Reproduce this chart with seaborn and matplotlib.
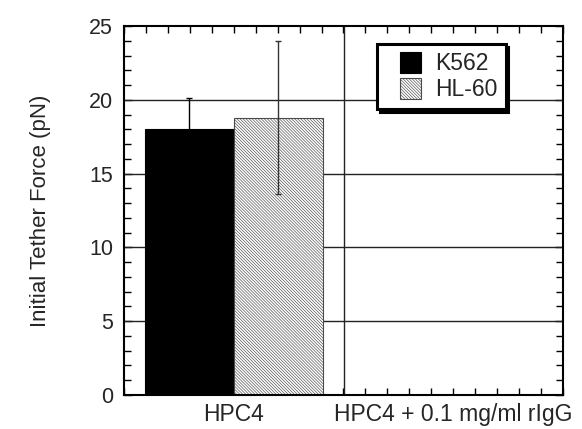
import numpy as np
import pandas as pd
import matplotlib
matplotlib.use("Agg")
import matplotlib.pyplot as plt
from matplotlib.ticker import MultipleLocator, FixedLocator
from matplotlib.patches import Rectangle
from matplotlib.legend_handler import HandlerPatch
import seaborn as sns

# ---- data ----
categories = ["HPC4", "HPC4 + 0.1 mg/ml rIgG"]
cells = ["K562", "HL-60"]
k562_mean = [18.0, np.nan]
k562_err = [2.1, np.nan]
hl60_mean = [18.8, np.nan]
hl60_err = [5.15, np.nan]

df = pd.DataFrame({
    "condition": categories * 2,
    "cell": [cells[0]] * 2 + [cells[1]] * 2,
    "force": k562_mean + hl60_mean,
})
errs = {cells[0]: k562_err, cells[1]: hl60_err}

sns.set_style("ticks")
plt.rcParams["font.family"] = ["Liberation Sans", "DejaVu Sans"]
plt.rcParams["hatch.linewidth"] = 0.45

fig = plt.figure(figsize=(5.82, 4.29), dpi=100)
ax = fig.add_axes([124 / 582, 1 - 395 / 429, (563 - 124) / 582, (395 - 26) / 429])

sns.barplot(data=df.dropna(), x="condition", y="force", hue="cell",
            order=categories, hue_order=cells, palette=["black", "white"],
            saturation=1, width=0.81, errorbar=None, ax=ax, zorder=2,
            legend=False)
bar_containers = list(ax.containers)

# styling bars
for p in bar_containers[0]:
    p.set_edgecolor("black")
    p.set_linewidth(0.8)
for p in bar_containers[1]:
    p.set_facecolor("white")
    p.set_edgecolor("#4a4a4a")
    p.set_hatch("\\" * 11)
    p.set_linewidth(0.8)

# error bars
for cont, cell in zip(bar_containers, cells):
    xs = [p.get_x() + p.get_width() / 2 for p in cont]
    ys = [p.get_height() for p in cont]
    e = [v for v in errs[cell] if not np.isnan(v)][: len(xs)]
    col = "black" if cell == cells[0] else "#333333"
    ax.errorbar(xs, ys, yerr=e, fmt="none", ecolor=col, elinewidth=1.0,
                capsize=2.5, capthick=1.0, zorder=3)

ax.set_xlim(-0.5, len(categories) - 0.5)
ax.set_ylim(0, 25)

# grid
for yv in [5, 10, 15, 20]:
    ax.axhline(yv, color="#222222", lw=1.0, zorder=1)
ax.axvline(0.5, color="#222222", lw=1.0, zorder=1)

ax.yaxis.set_major_locator(MultipleLocator(5))
ax.yaxis.set_minor_locator(MultipleLocator(1))
ax.xaxis.set_minor_locator(FixedLocator(np.arange(-0.5, 1.51, 0.1)))
ax.tick_params(axis="both", which="both", direction="in", top=True, right=True,
               width=1.0, color="black")
ax.tick_params(axis="y", which="major", length=6, labelsize=15.5, pad=8)
ax.tick_params(axis="y", which="minor", length=5)
ax.tick_params(axis="x", which="major", length=5, labelsize=16.5, pad=6)
ax.tick_params(axis="x", which="minor", length=5)
for s in ax.spines.values():
    s.set_linewidth(1.5)
    s.set_color("black")

ax.set_xlabel("")
ax.set_ylabel("Initial Tether Force (pN)", fontsize=16, labelpad=27)


def square_handle(legend, orig_handle, xdescent, ydescent, width, height, fontsize):
    return Rectangle((width - height - xdescent, -ydescent), height, height)


leg_handles = [c[0] for c in bar_containers]
leg = ax.legend(handles=leg_handles, labels=cells, loc="upper left",
                bbox_to_anchor=((377 - 124) / 439, (395 - 44) / 369),
                borderaxespad=0, fontsize=16.5, frameon=True, fancybox=False,
                shadow={"color": "black", "alpha": 1}, handlelength=1.55,
                handleheight=1.0, handletextpad=0.62, labelspacing=0.12,
                borderpad=0.36,
                handler_map={Rectangle: HandlerPatch(patch_func=square_handle)})
leg.get_frame().set_edgecolor("black")
leg.get_frame().set_linewidth(2.2)
leg.get_frame().set_alpha(1)
leg.set_zorder(5)

fig.savefig("out.png", dpi=100)
